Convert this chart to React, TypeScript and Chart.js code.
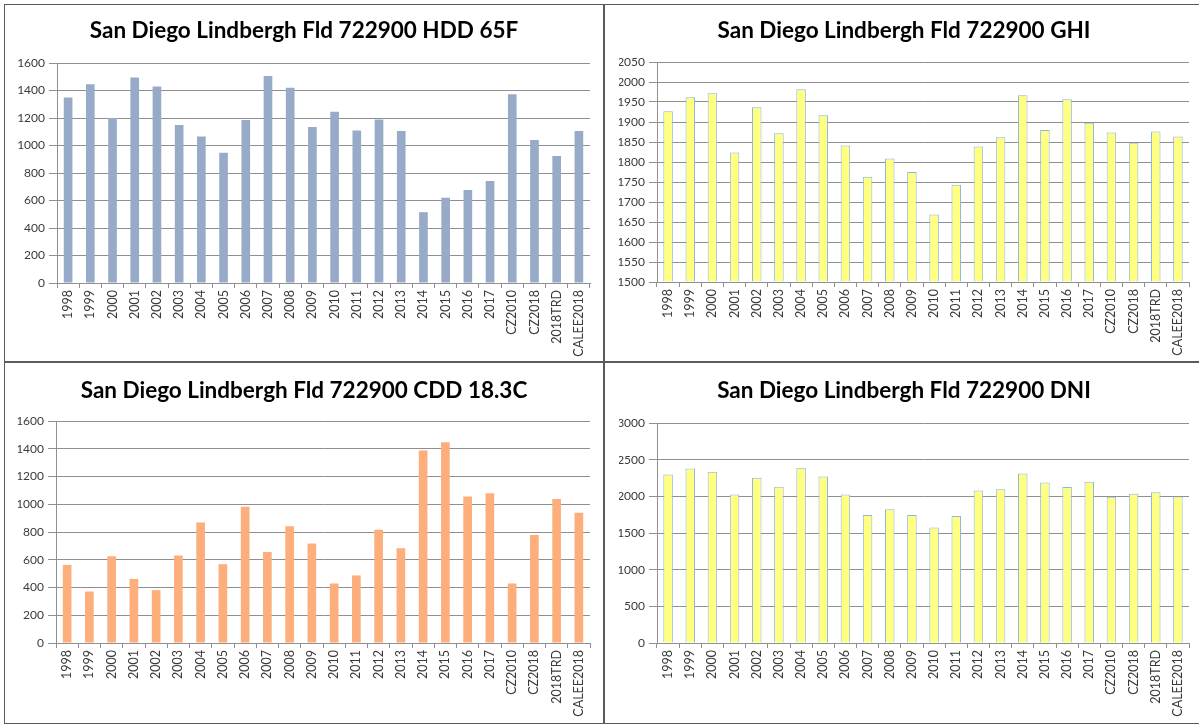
import React, { useEffect, useRef } from 'react';
import { Chart, registerables } from 'chart.js';

Chart.register(...registerables);

// ---------- data ----------
const categories = [
  '1998', '1999', '2000', '2001', '2002', '2003', '2004', '2005', '2006', '2007',
  '2008', '2009', '2010', '2011', '2012', '2013', '2014', '2015', '2016', '2017',
  'CZ2010', 'CZ2018', '2018TRD', 'CALEE2018',
];

const hddValues = [
  1350, 1445, 1200, 1495, 1430, 1150, 1065, 948, 1185, 1505,
  1420, 1135, 1245, 1110, 1190, 1105, 515, 620, 676, 742,
  1373, 1040, 923, 1106,
];

const ghiValues = [
  1927, 1962, 1972, 1824, 1937, 1872, 1982, 1917, 1841, 1763,
  1809, 1775, 1669, 1743, 1839, 1862, 1967, 1880, 1957, 1898,
  1874, 1847, 1876, 1864,
];

const cddValues = [
  563, 371, 625, 462, 381, 630, 869, 568, 982, 656,
  842, 718, 429, 487, 817, 683, 1388, 1446, 1056, 1080,
  429, 779, 1037, 938,
];

const dniValues = [
  2298, 2380, 2335, 2025, 2253, 2130, 2390, 2270, 2025, 1745,
  1823, 1745, 1574, 1731, 2080, 2098, 2313, 2190, 2126, 2199,
  1995, 2036, 2054, 1998,
];

// y axis ranges: [min, max, step]
const hddAxis = [0, 1600, 200];
const ghiAxis = [1500, 2050, 50];
const cddAxis = [0, 1600, 200];
const dniAxis = [0, 3000, 500];

const hddTitle = 'San Diego Lindbergh Fld 722900 HDD 65F';
const ghiTitle = 'San Diego Lindbergh Fld 722900 GHI';
const cddTitle = 'San Diego Lindbergh Fld 722900 CDD 18.3C';
const dniTitle = 'San Diego Lindbergh Fld 722900 DNI';

// ---------- styling ----------
const FONT = 'Lato, "Noto Sans", sans-serif';
const GRID = '#8f8f8f';
const TEXT = '#3a3a3a';

type Geo = {
  w: number; h: number;
  padL: number; padR: number;
  yW: number; xH: number;
  tTop: number; tBot: number;
};

type ChartProps = {
  title: string;
  values: number[];
  axis: number[];
  fill: string;
  border: string;
  borderWidth: number;
  barPct: number;
  geo: Geo;
};

function BarChart({ title, values, axis, fill, border, borderWidth, barPct, geo }: ChartProps) {
  const ref = useRef<HTMLCanvasElement | null>(null);
  useEffect(() => {
    if (!ref.current) return;
    const chart = new Chart(ref.current, {
      type: 'bar',
      data: {
        labels: categories,
        datasets: [
          {
            data: values,
            backgroundColor: fill,
            borderColor: border,
            borderWidth: borderWidth,
            barPercentage: barPct,
            categoryPercentage: 1,
            base: axis[0],
          } as any,
        ],
      },
      options: {
        responsive: false,
        animation: false,
        devicePixelRatio: 1,
        layout: { padding: { left: geo.padL, right: geo.padR, top: 0, bottom: 0 } },
        plugins: {
          legend: { display: false },
          tooltip: { enabled: false },
          title: {
            display: true,
            text: title,
            color: '#000',
            font: { family: FONT, size: 22.5, weight: 'bold', lineHeight: 1.2 },
            padding: { top: geo.tTop, bottom: geo.tBot },
          },
        },
        scales: {
          x: {
            grid: { offset: true, drawOnChartArea: false, drawTicks: true, tickLength: 5, color: GRID },
            border: { display: true, color: GRID },
            ticks: {
              autoSkip: false,
              minRotation: 90,
              maxRotation: 90,
              padding: 2,
              color: TEXT,
              font: { family: FONT, size: 12.5 },
            },
            afterFit: (s: any) => { s.height = geo.xH; },
          },
          y: {
            min: axis[0],
            max: axis[1],
            ticks: {
              stepSize: axis[2],
              padding: 4,
              color: TEXT,
              font: { family: FONT, size: 12 },
              callback: (v: any) => String(v),
            },
            grid: { color: GRID, tickLength: 8 },
            border: { display: true, color: GRID },
            afterFit: (s: any) => { s.width = geo.yW; },
          },
        },
      } as any,
    });
    return () => chart.destroy();
  }, [title, values, axis, fill, border, borderWidth, barPct, geo]);
  return <canvas ref={ref} width={geo.w} height={geo.h} style={{ position: 'absolute', left: 0, top: 0, width: geo.w, height: geo.h }} />;
}

function Panel({ left, top, width, height, children }: { left: number; top: number; width: number; height: number; children: React.ReactNode }) {
  return (
    <div
      style={{
        position: 'absolute', left, top, width, height,
        boxSizing: 'border-box', border: '1px solid #5a5a5a', background: '#fff', overflow: 'hidden',
      }}
    >
      <div style={{ position: 'relative', width: '100%', height: '100%' }}>{children}</div>
    </div>
  );
}

const geoTL: Geo = { w: 598, h: 356, padL: 13, padR: 13, yW: 39, xH: 78, tTop: 12, tBot: 19 };
const geoTR: Geo = { w: 595, h: 356, padL: 14, padR: 11, yW: 38, xH: 79, tTop: 12, tBot: 18 };
const geoBL: Geo = { w: 598, h: 360, padL: 13, padR: 13, yW: 38, xH: 80, tTop: 14, tBot: 17 };
const geoBR: Geo = { w: 595, h: 360, padL: 14, padR: 11, yW: 38, xH: 80, tTop: 14, tBot: 19 };

export default function App() {
  return (
    <div style={{ position: 'absolute', left: 0, top: 0, width: 1199, height: 725, background: '#fff', overflow: 'hidden' }}>
      <Panel left={4} top={4} width={600} height={358}>
        <BarChart title={hddTitle} values={hddValues} axis={hddAxis} fill="#97abc9" border="#97abc9" borderWidth={0} barPct={0.39} geo={geoTL} />
      </Panel>
      <Panel left={604} top={4} width={597} height={358}>
        <BarChart title={ghiTitle} values={ghiValues} axis={ghiAxis} fill="#ffff80" border="#8eb4e3" borderWidth={1} barPct={0.43} geo={geoTR} />
      </Panel>
      <Panel left={4} top={362} width={600} height={362}>
        <BarChart title={cddTitle} values={cddValues} axis={cddAxis} fill="#fdae7b" border="#fdae7b" borderWidth={0} barPct={0.39} geo={geoBL} />
      </Panel>
      <Panel left={604} top={362} width={597} height={362}>
        <BarChart title={dniTitle} values={dniValues} axis={dniAxis} fill="#ffff80" border="#8eb4e3" borderWidth={1} barPct={0.43} geo={geoBR} />
      </Panel>
    </div>
  );
}
